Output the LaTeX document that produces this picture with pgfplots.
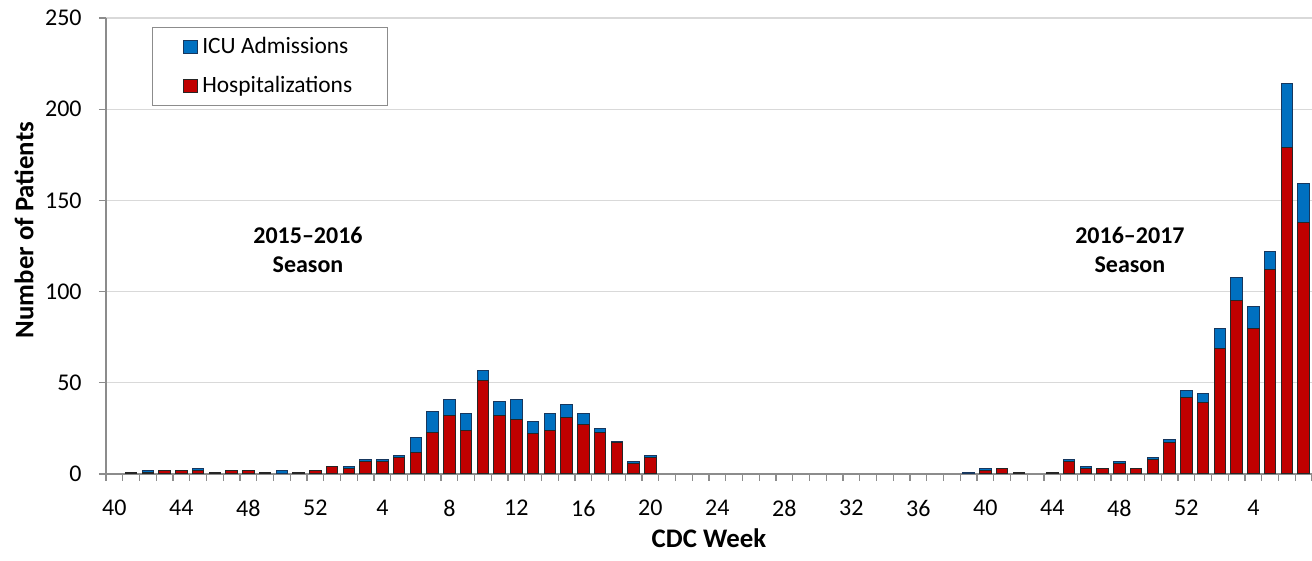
\documentclass[border=0pt]{standalone}
\usepackage{fontspec}
\setmainfont{Carlito}
\usepackage{pgfplots}
\usepackage{pgfplotstable}
\pgfplotsset{compat=1.18}

\definecolor{hosp}{HTML}{C00000}
\definecolor{icu}{HTML}{0070C0}
\definecolor{icuedge}{HTML}{17375E}
\definecolor{gridc}{HTML}{D9D9D9}
\definecolor{axisc}{HTML}{8C8C8C}

\pgfplotsset{sqlegend/.style={legend image code/.code={\draw[##1] (0pt,-3.25pt) rectangle (7pt,3.25pt);}}}

% idx = position on the axis, week = CDC week
\pgfplotstableread{
idx week hosp icu
0  40  0 0
1  41  1 0
2  42  1 1
3  43  2 0
4  44  2 0
5  45  2 1
6  46  1 0
7  47  2 0
8  48  2 0
9  49  1 0
10 50  0 2
11 51  1 0
12 52  2 0
13 1   4 0
14 2   3 1
15 3   7 1
16 4   7 1
17 5   9 1
18 6  12 8
19 7  23 11
20 8  32 9
21 9  24 9
22 10 51 6
23 11 32 8
24 12 30 11
25 13 22 7
26 14 24 9
27 15 31 7
28 16 27 6
29 17 23 2
30 18 17 1
31 19  6 1
32 20  9 1
33 21 0 0
34 22 0 0
35 23 0 0
36 24 0 0
37 25 0 0
38 26 0 0
39 27 0 0
40 28 0 0
41 29 0 0
42 30 0 0
43 31 0 0
44 32 0 0
45 33 0 0
46 34 0 0
47 35 0 0
48 36 0 0
49 37 0 0
50 38 0 0
51 39  0 1
52 40  2 1
53 41  3 0
54 42  1 0
55 43  0 0
56 44  1 0
57 45  7 1
58 46  3 1
59 47  3 0
60 48  6 1
61 49  3 0
62 50  8 1
63 51 17 2
64 52 42 4
65 1  39 5
66 2  69 11
67 3  95 13
68 4  80 12
69 5 112 10
70 6 179 35
71 7 138 21
}\flu

\begin{document}
\fontsize{12}{14}\selectfont
\begin{tikzpicture}
\path[use as bounding box] (-53pt,-43.5pt) rectangle (603pt,237pt);
\begin{axis}[
  scale only axis,
  width=603pt, height=228pt,
  ybar stacked,
  stacked ignores zero,
  bar width=0.7,
  xmin=-0.5, xmax=71.5,
  ymin=0, ymax=250,
  axis x line=bottom, axis y line=left,
  axis line style={axisc, line width=0.6pt, -},
  ytick={0,50,...,250},
  ymajorgrids,
  grid style={gridc, line width=0.6pt},
  xtick={0,4,...,68},
  xticklabels={40,44,48,52,4,8,12,16,20,24,28,32,36,40,44,48,52,4},
  minor xtick={-0.5,0.5,...,71.5},
  tick align=outside,
  major tick length=3.5pt,
  minor tick length=3.5pt,
  major x tick style={draw=none},
  minor x tick style={axisc, line width=0.6pt},
  major y tick style={axisc, line width=0.6pt},
  tick label style={font=\fontsize{12}{14}\selectfont},
  xticklabel style={yshift=-5.5pt},
  yticklabel style={xshift=-4.5pt},
  /pgf/number format/assume math mode=true,
  xlabel={CDC Week},
  ylabel={Number of Patients},
  label style={font=\bfseries\fontsize{13.4}{16}\selectfont},
  xlabel style={at={(axis description cs:0.5,-0.140)}, anchor=center},
  ylabel style={at={(axis description cs:-0.068,0.535)}, anchor=center},
  reverse legend,
  legend cell align=left,
  legend style={at={(axis description cs:0.038,0.981)}, anchor=north west,
    font=\fontsize{11.7}{14}\selectfont,
    draw=axisc, line width=0.5pt, inner xsep=15.5pt, inner ysep=3pt, row sep=5.5pt},
]
\addplot[fill=hosp, draw=black!85, line width=0.5pt, sqlegend]
  table[x=idx, y=hosp] {\flu};
\addlegendentry{Hospitalizations}
\addplot[fill=icu, draw=icuedge, line width=0.5pt, sqlegend]
  table[x=idx, y=icu] {\flu};
\addlegendentry{ICU Admissions}
\node[font=\bfseries\fontsize{12}{14.5}\selectfont, align=center] at (axis cs:11.56,123) {2015–2016\\Season};
\node[font=\bfseries\fontsize{12}{14.5}\selectfont, align=center] at (axis cs:60.63,123) {2016–2017\\Season};
\end{axis}
\end{tikzpicture}
\end{document}
